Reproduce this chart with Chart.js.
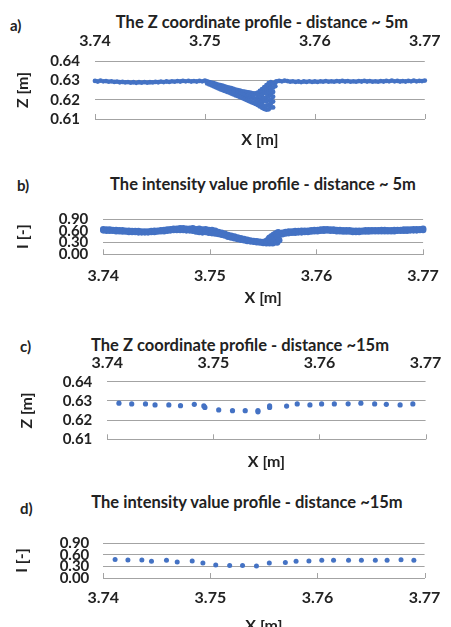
<!DOCTYPE html>
<html>
<head>
<meta charset="utf-8">
<script src="https://cdn.jsdelivr.net/npm/chart.js@4.4.0/dist/chart.umd.min.js"></script>
<style>
html, body { margin: 0; padding: 0; width: 451px; height: 627px; overflow: hidden; background: #fff; }
body { position: relative; font-family: Lato, 'Open Sans', sans-serif; font-weight: bold; color: #222; }
.panel { position: absolute; left: 0; width: 451px; }
.lbl { position: absolute; font-size: 15px; line-height: 15px; transform: translateY(-50%); }
.ttl { position: absolute; font-size: 16.5px; line-height: 18px; white-space: nowrap; transform: translate(-50%, -50%); }
</style>
</head>
<body>
<div class="lbl" style="left:10px;top:25px">a)</div>
<div class="ttl" style="left:262px;top:22px">The Z coordinate profile - distance ~ 5m</div>
<div class="panel" style="top:30px;height:125px"><canvas id="chartA"></canvas></div>

<div class="lbl" style="left:17px;top:185px">b)</div>
<div class="ttl" style="left:263px;top:184px">The intensity value profile - distance ~ 5m</div>
<div class="panel" style="top:195px;height:115px"><canvas id="chartB"></canvas></div>

<div class="lbl" style="left:20px;top:346px">c)</div>
<div class="ttl" style="left:240px;top:345px">The Z coordinate profile - distance ~15m</div>
<div class="panel" style="top:351px;height:126px"><canvas id="chartC"></canvas></div>

<div class="lbl" style="left:20px;top:508px">d)</div>
<div class="ttl" style="left:247px;top:502px">The intensity value profile - distance ~15m</div>
<div class="panel" style="top:520px;height:118px"><canvas id="chartD"></canvas></div>

<script>
// a) Z profile, ~5 m: flat parts, the edges and middle of the dip, the fill near its bottom
const xALeft = [3.7400, 3.74025, 3.7405, 3.74075, 3.7410, 3.74125, 3.7415, 3.74175, 3.7420, 3.74225,
    3.7425, 3.74275, 3.7430, 3.74325, 3.7435, 3.74375, 3.7440, 3.74425, 3.7445, 3.74475,
    3.7450, 3.74525, 3.7455, 3.74575, 3.7460, 3.74625, 3.7465, 3.74675, 3.7470, 3.74725,
    3.7475, 3.74775, 3.7480, 3.74825, 3.7485, 3.74875, 3.7490, 3.74925, 3.7495, 3.74975, 3.7500];
const zALeft = [0.6297, 0.6294, 0.6298, 0.6295, 0.6296, 0.6293, 0.6295, 0.6292, 0.6293, 0.6290,
    0.6292, 0.6289, 0.6291, 0.6288, 0.6290, 0.6287, 0.6290, 0.6288, 0.6291, 0.6288,
    0.6290, 0.6289, 0.6292, 0.6290, 0.6293, 0.6291, 0.6294, 0.6292, 0.6295, 0.6293,
    0.6296, 0.6294, 0.6297, 0.6295, 0.6297, 0.6294, 0.6296, 0.6294, 0.6297, 0.6295, 0.6298];

const xADip = [3.7502, 3.7504, 3.7506, 3.7508, 3.7510, 3.7512, 3.7514, 3.7516, 3.7518, 3.7520,
    3.7522, 3.7524, 3.7526, 3.7528, 3.7530, 3.7532, 3.7534, 3.7536, 3.7538, 3.7540,
    3.7542, 3.7544, 3.7546, 3.7548, 3.7550, 3.7552, 3.7554, 3.7556, 3.7558, 3.7560];
const zADipUpper = [0.6294, 0.6291, 0.6288, 0.6285, 0.6282, 0.6278, 0.6275, 0.6272, 0.6268, 0.6265,
    0.6262, 0.6259, 0.6256, 0.6252, 0.6249, 0.6246, 0.6243, 0.6241, 0.6239, 0.6237,
    0.6235, 0.6233, 0.6232, 0.6236, 0.6245, 0.6255, 0.6265, 0.6275, 0.6285, 0.6290];
const zADipMid = [0.6289, 0.6285, 0.6281, 0.6277, 0.6273, 0.6269, 0.6265, 0.6261, 0.6257, 0.6253,
    0.6250, 0.6246, 0.6242, 0.6238, 0.6234, 0.6230, 0.6226, 0.6222, 0.6218, 0.6215,
    0.6211, 0.6208, 0.6205, 0.6203, 0.6205, 0.6206, 0.6208, 0.6211, 0.6218, 0.6225];
const zADipLower = [0.6284, 0.6279, 0.6274, 0.6269, 0.6264, 0.6259, 0.6254, 0.6250, 0.6245, 0.6241,
    0.6237, 0.6232, 0.6227, 0.6222, 0.6218, 0.6213, 0.6208, 0.6203, 0.6198, 0.6193,
    0.6188, 0.6183, 0.6178, 0.6172, 0.6165, 0.6158, 0.6152, 0.6148, 0.6150, 0.6160];

const xAMid = [3.7540, 3.7542, 3.7544, 3.7546, 3.7548, 3.7548,
    3.7550, 3.7550, 3.7550, 3.7552, 3.7552, 3.7552, 3.7552,
    3.7554, 3.7554, 3.7554, 3.7554, 3.7556, 3.7556, 3.7556, 3.7556, 3.7556,
    3.7558, 3.7558, 3.7558, 3.7558, 3.7558, 3.7560, 3.7560, 3.7560, 3.7560, 3.7560,
    3.7562, 3.7562, 3.7562, 3.7562, 3.7562, 3.7562, 3.7564, 3.7564];
const zAMid = [0.6226, 0.6222, 0.6220, 0.6194, 0.6219, 0.6188,
    0.6225, 0.6218, 0.6183, 0.6240, 0.6225, 0.6190, 0.6176,
    0.6250, 0.6235, 0.6195, 0.6168, 0.6260, 0.6245, 0.6230, 0.6190, 0.6168,
    0.6270, 0.6255, 0.6240, 0.6196, 0.6172, 0.6280, 0.6260, 0.6245, 0.6200, 0.6180,
    0.6285, 0.6262, 0.6240, 0.6215, 0.6190, 0.6160, 0.6290, 0.6270];

const xARight = [3.7565, 3.75675, 3.7570, 3.75725, 3.7575, 3.75775, 3.7580, 3.75825, 3.7585, 3.75875,
    3.7590, 3.75925, 3.7595, 3.75975, 3.7600, 3.76025, 3.7605, 3.76075, 3.7610, 3.76125,
    3.7615, 3.76175, 3.7620, 3.76225, 3.7625, 3.76275, 3.7630, 3.76325, 3.7635, 3.76375,
    3.7640, 3.76425, 3.7645, 3.76475, 3.7650, 3.76525, 3.7655, 3.76575, 3.7660, 3.76625,
    3.7665, 3.76675, 3.7670, 3.76725, 3.7675, 3.76775, 3.7680, 3.76825, 3.7685, 3.76875,
    3.7690, 3.76925, 3.7695, 3.76975, 3.7700];
const zARight = [0.6294, 0.6297, 0.6295, 0.6298, 0.6296, 0.6293, 0.6295, 0.6292, 0.6294, 0.6291,
    0.6294, 0.6292, 0.6295, 0.6292, 0.6294, 0.6292, 0.6295, 0.6293, 0.6296, 0.6293,
    0.6295, 0.6293, 0.6296, 0.6294, 0.6297, 0.6294, 0.6296, 0.6293, 0.6295, 0.6293,
    0.6296, 0.6294, 0.6297, 0.6294, 0.6296, 0.6293, 0.6295, 0.6293, 0.6296, 0.6294,
    0.6297, 0.6295, 0.6298, 0.6295, 0.6297, 0.6294, 0.6296, 0.6294, 0.6297, 0.6295,
    0.6298, 0.6295, 0.6297, 0.6296, 0.6299];

// b) intensity, ~5 m: upper / lower edge of the band, plus the right wall of the dip
const xB = [3.7400, 3.7403, 3.7406, 3.7409, 3.7412, 3.7415, 3.7418, 3.7421, 3.7424, 3.7427,
    3.7430, 3.7433, 3.7436, 3.7439, 3.7442, 3.7445, 3.7448, 3.7451, 3.7454, 3.7457,
    3.7460, 3.7463, 3.7466, 3.7469, 3.7472, 3.7475, 3.7478, 3.7481, 3.7484, 3.7487,
    3.7490, 3.7493, 3.7496, 3.7499, 3.7502, 3.7505, 3.7508, 3.7511, 3.7514, 3.7517,
    3.7520, 3.7523, 3.7526, 3.7529, 3.7532, 3.7535, 3.7538, 3.7541, 3.7544, 3.7547,
    3.7550, 3.7553, 3.7556, 3.7559,
    3.7565, 3.7568, 3.7571, 3.7574, 3.7577, 3.7580, 3.7583, 3.7586, 3.7589, 3.7592,
    3.7595, 3.7598, 3.7601, 3.7604, 3.7607, 3.7610, 3.7613, 3.7616, 3.7619, 3.7622,
    3.7625, 3.7628, 3.7631, 3.7634, 3.7637, 3.7640, 3.7643, 3.7646, 3.7649, 3.7652,
    3.7655, 3.7658, 3.7661, 3.7664, 3.7667, 3.7670, 3.7673, 3.7676, 3.7679, 3.7682,
    3.7685, 3.7688, 3.7691, 3.7694, 3.7697, 3.7700];
const iBUpper = [0.64, 0.63, 0.63, 0.62, 0.62, 0.61, 0.61, 0.60, 0.60, 0.59,
    0.59, 0.59, 0.58, 0.58, 0.58, 0.59, 0.60, 0.60, 0.61, 0.62,
    0.63, 0.64, 0.65, 0.65, 0.66, 0.66, 0.65, 0.65, 0.66, 0.64,
    0.65, 0.63, 0.64, 0.62, 0.62, 0.60, 0.57, 0.55, 0.52, 0.49,
    0.47, 0.45, 0.43, 0.41, 0.39, 0.37, 0.35, 0.34, 0.33, 0.32,
    0.31, 0.30, 0.30, 0.30,
    0.54, 0.55, 0.57, 0.58, 0.58, 0.59, 0.59, 0.60, 0.60, 0.60,
    0.61, 0.62, 0.62, 0.63, 0.64, 0.64, 0.63, 0.63, 0.62, 0.62,
    0.61, 0.61, 0.61, 0.60, 0.60, 0.60, 0.60, 0.61, 0.61, 0.61,
    0.61, 0.61, 0.62, 0.62, 0.61, 0.61, 0.62, 0.62, 0.62, 0.63,
    0.63, 0.63, 0.64, 0.64, 0.64, 0.65];
const iBLower = [0.61, 0.60, 0.60, 0.60, 0.59, 0.59, 0.58, 0.58, 0.57, 0.57,
    0.57, 0.56, 0.56, 0.56, 0.56, 0.57, 0.57, 0.58, 0.59, 0.59,
    0.60, 0.61, 0.62, 0.62, 0.62, 0.62, 0.61, 0.61, 0.60, 0.58,
    0.57, 0.56, 0.57, 0.55, 0.54, 0.53, 0.52, 0.50, 0.48, 0.45,
    0.43, 0.41, 0.39, 0.37, 0.36, 0.34, 0.33, 0.32, 0.31, 0.30,
    0.29, 0.28, 0.28, 0.28,
    0.50, 0.51, 0.53, 0.54, 0.55, 0.55, 0.56, 0.56, 0.57, 0.57,
    0.58, 0.59, 0.59, 0.60, 0.60, 0.61, 0.60, 0.60, 0.59, 0.59,
    0.58, 0.58, 0.58, 0.57, 0.57, 0.57, 0.58, 0.58, 0.58, 0.59,
    0.59, 0.59, 0.59, 0.59, 0.59, 0.59, 0.59, 0.60, 0.60, 0.60,
    0.60, 0.61, 0.61, 0.61, 0.62, 0.62];
const xBEdge = [3.7553, 3.7555, 3.7556, 3.7557, 3.7558, 3.7559, 3.7560, 3.7560,
    3.7561, 3.7562, 3.7562, 3.7563, 3.7563, 3.7564, 3.7564, 3.7565];
const iBEdge = [0.34, 0.38, 0.42, 0.35, 0.46, 0.39, 0.50, 0.33,
    0.44, 0.53, 0.37, 0.48, 0.30, 0.56, 0.42, 0.36];

// c) Z profile, ~15 m
const xC = [3.7411, 3.7423, 3.7436, 3.7445, 3.7458, 3.7469, 3.7482, 3.7491, 3.7492, 3.7505,
    3.7518, 3.7530, 3.7542, 3.7542, 3.7553, 3.7553, 3.7569, 3.7579, 3.7591, 3.7602,
    3.7614, 3.7627, 3.7639, 3.7652, 3.7663, 3.7676, 3.7688];
const zC = [0.6288, 0.6284, 0.6284, 0.6279, 0.6279, 0.6275, 0.6282, 0.6274, 0.6266, 0.6253,
    0.6249, 0.6249, 0.6250, 0.6243, 0.6274, 0.6266, 0.6273, 0.6284, 0.6279, 0.6284,
    0.6284, 0.6285, 0.6288, 0.6284, 0.6282, 0.6279, 0.6284];

// d) intensity, ~15 m
const xD = [3.7411, 3.7423, 3.7436, 3.7445, 3.7459, 3.7469, 3.7483, 3.7493, 3.7505, 3.7518,
    3.7530, 3.7543, 3.7555, 3.7570, 3.7580, 3.7592, 3.7604, 3.7615, 3.7629, 3.7641,
    3.7654, 3.7665, 3.7678, 3.7690];
const iD = [0.475, 0.464, 0.464, 0.433, 0.456, 0.409, 0.438, 0.384, 0.336, 0.324,
    0.324, 0.311, 0.384, 0.396, 0.433, 0.438, 0.456, 0.456, 0.456, 0.456,
    0.456, 0.456, 0.469, 0.456];

const xTickValues = [3.74, 3.75, 3.76, 3.77];
const zTickValues = [0.61, 0.62, 0.63, 0.64];
const iTickValues = [0.00, 0.30, 0.60, 0.90];

const blue = '#4472C4';
const gridGray = '#a3a3a3';
const textColor = '#222';
const xTickFont = { family: 'Lato', size: 16, weight: 'bold' };
const yTickFont = { family: 'Lato', size: 15, weight: 'bold' };
const axisTitleFont = { family: 'Lato', size: 16, weight: 'bold' };

function zip(xs, ys) {
    const out = [];
    for (let i = 0; i < Math.min(xs.length, ys.length); i++) out.push({ x: xs[i], y: ys[i] });
    return out;
}

// Excel style: small tick marks pointing up into the plot from the category axis
const innerTicks = {
    id: 'innerTicks',
    afterDraw(chart) {
        const xs = chart.scales.x;
        const area = chart.chartArea;
        const ctx = chart.ctx;
        ctx.save();
        ctx.strokeStyle = gridGray;
        ctx.lineWidth = 1;
        xs.ticks.forEach(function (t) {
            const px = Math.round(xs.getPixelForValue(t.value)) + 0.5;
            ctx.beginPath();
            ctx.moveTo(px, area.bottom - 5);
            ctx.lineTo(px, area.bottom);
            ctx.stroke();
        });
        ctx.restore();
    }
};

function makeChart(id, p) {
    const scales = {
        x: {
            type: 'linear',
            position: 'bottom',
            min: xTickValues[0],
            max: xTickValues[xTickValues.length - 1],
            afterFit: function (s) { s.height = p.bottomH; },
            afterBuildTicks: function (s) { s.ticks = xTickValues.map(v => ({ value: v })); },
            grid: { display: false, drawTicks: false },
            border: { display: true, color: gridGray },
            ticks: {
                display: !p.labelsOnTop,
                padding: p.xPad,
                font: xTickFont,
                color: textColor,
                maxRotation: 0,
                autoSkip: false,
                callback: v => v.toFixed(2)
            },
            title: {
                display: true, text: 'X [m]', font: axisTitleFont, color: textColor,
                padding: { top: 0, bottom: p.xTitlePad }
            }
        },
        y: {
            position: 'left',
            min: p.yTicks[0],
            max: p.yTicks[p.yTicks.length - 1],
            afterFit: function (s) { s.width = p.leftW; },
            afterBuildTicks: function (s) { s.ticks = p.yTicks.map(v => ({ value: v })); },
            grid: { color: gridGray, drawTicks: false },
            border: { display: false },
            ticks: { padding: p.yPad, font: yTickFont, color: textColor, autoSkip: false, callback: v => v.toFixed(2) },
            title: {
                display: true, text: p.yTitle, font: axisTitleFont, color: textColor,
                padding: { top: p.yTitlePad, bottom: 0 }
            }
        }
    };
    if (p.labelsOnTop) {
        scales.xTop = {
            type: 'linear',
            position: 'top',
            min: xTickValues[0],
            max: xTickValues[xTickValues.length - 1],
            afterFit: function (s) { s.height = p.topH; },
            afterBuildTicks: function (s) { s.ticks = xTickValues.map(v => ({ value: v })); },
            grid: { display: false, drawTicks: false },
            border: { display: false },
            ticks: { padding: p.xPad, font: xTickFont, color: textColor, maxRotation: 0, autoSkip: false, callback: v => v.toFixed(2) }
        };
    }

    return new Chart(document.getElementById(id), {
        type: 'scatter',
        data: {
            datasets: [{
                data: p.points,
                backgroundColor: blue,
                borderColor: blue,
                borderWidth: 0,
                pointRadius: p.radius,
                clip: false
            }]
        },
        options: {
            responsive: true,
            maintainAspectRatio: false,
            animation: false,
            layout: { padding: { top: p.padTop, right: 16, left: 0, bottom: 0 } },
            scales: scales,
            plugins: { legend: { display: false }, tooltip: { enabled: false } }
        },
        plugins: [innerTicks]
    });
}

makeChart('chartA', {
    points: zip(xALeft, zALeft).concat(zip(xADip, zADipUpper), zip(xADip, zADipMid), zip(xADip, zADipLower),
        zip(xAMid, zAMid), zip(xARight, zARight)),
    radius: 2.4, yTicks: zTickValues, yTitle: 'Z [m]',
    labelsOnTop: true, topH: 31, bottomH: 36, padTop: 0,
    xPad: 10.4, xTitlePad: 5.4, leftW: 95, yPad: 15, yTitlePad: 13.4
});

makeChart('chartB', {
    points: zip(xB, iBUpper).concat(zip(xB, iBLower), zip(xBEdge, iBEdge)),
    radius: 3.3, yTicks: iTickValues, yTitle: 'I [-]',
    labelsOnTop: false, bottomH: 55.7, padTop: 8.3,
    xPad: 12.1, xTitlePad: 2.9, leftW: 103.3, yPad: 15, yTitlePad: 13.4
});

makeChart('chartC', {
    points: zip(xC, zC),
    radius: 2.6, yTicks: zTickValues, yTitle: 'Z [m]',
    labelsOnTop: true, topH: 30.7, bottomH: 37.7, padTop: 0,
    xPad: 9.6, xTitlePad: 5.4, leftW: 107.3, yPad: 15, yTitlePad: 17.4
});

makeChart('chartD', {
    points: zip(xD, iD),
    radius: 2.5, yTicks: iTickValues, yTitle: 'I [-]',
    labelsOnTop: false, bottomH: 60, padTop: 8.3,
    xPad: 10.6, xTitlePad: 2.2, leftW: 103.3, yPad: 14, yTitlePad: 12.4
});
</script>
</body>
</html>
